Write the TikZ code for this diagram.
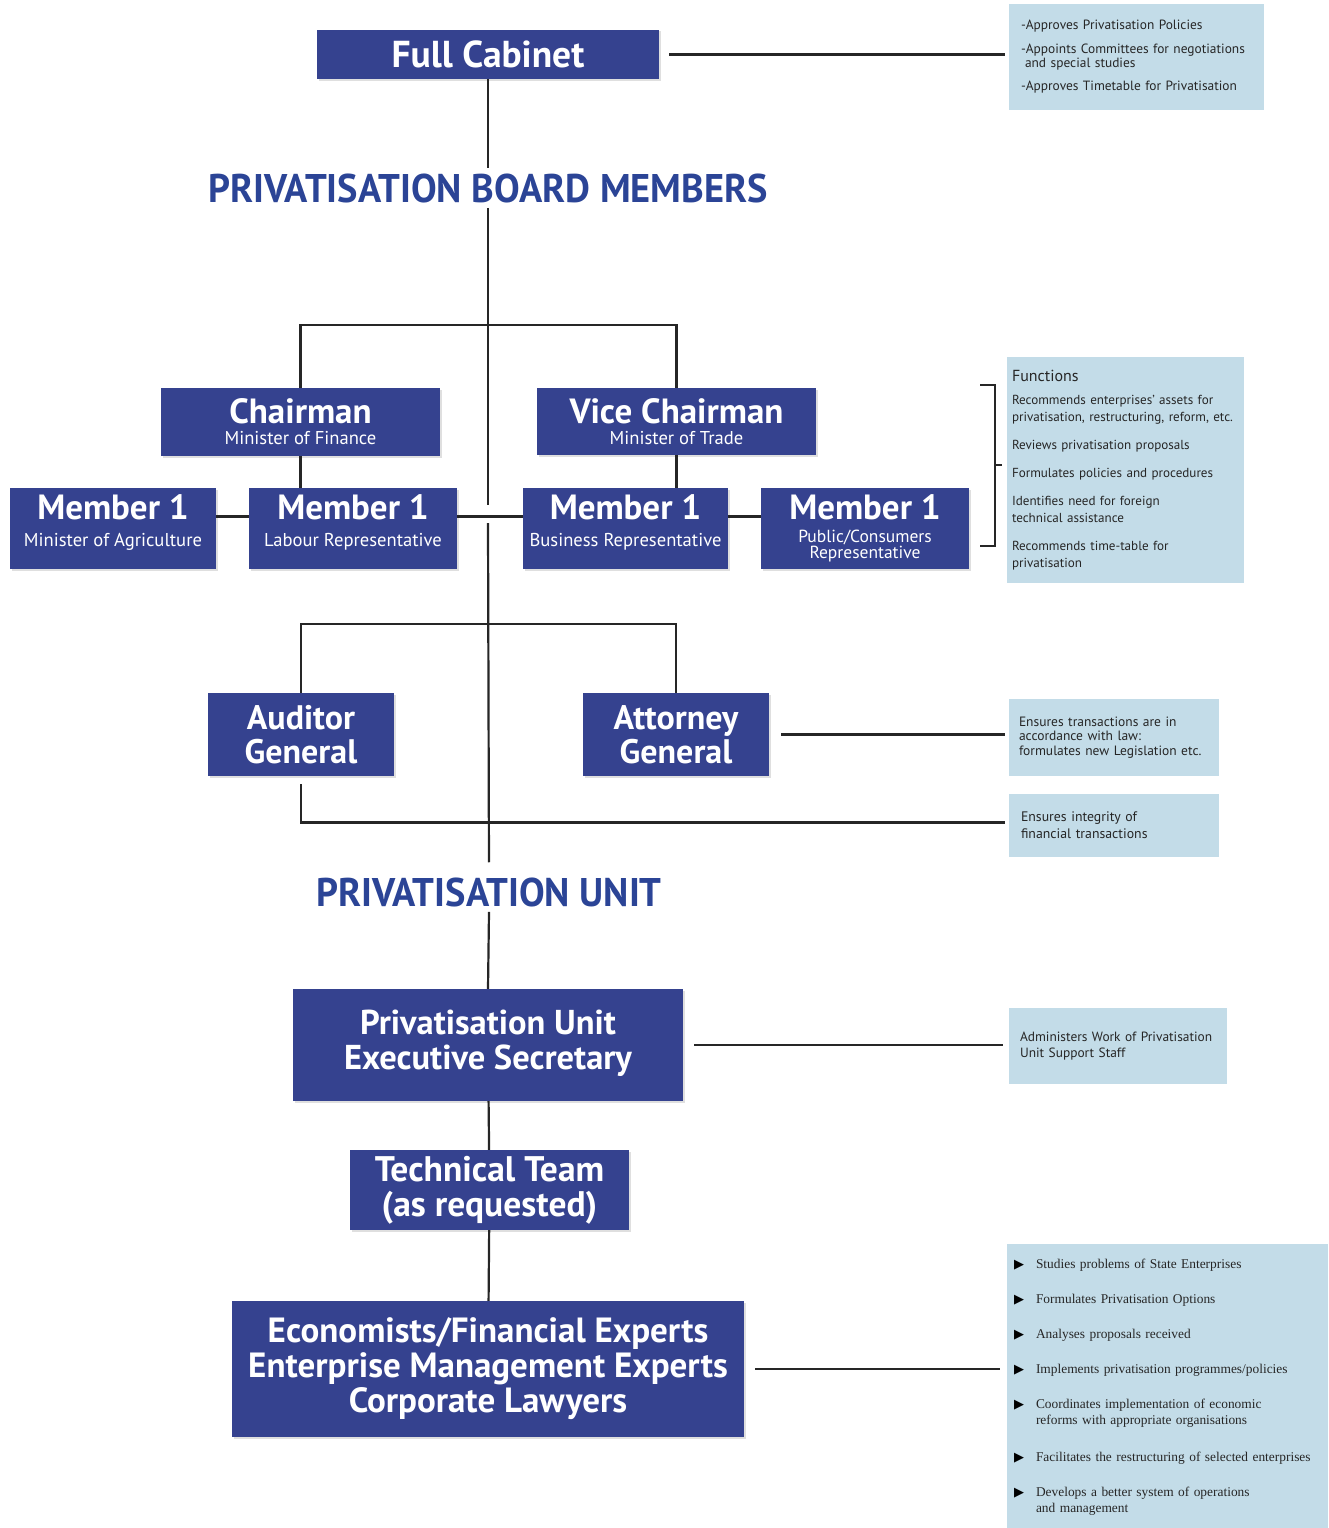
\documentclass[tikz,border=0pt]{standalone}
\usepackage{fontspec}
\setmainfont{PT Sans}
\newfontfamily\headfont{PT Sans}[FakeStretch=0.96]
\newfontfamily\listfont{Liberation Serif}
\newfontfamily\symfont{DejaVu Sans}
\usetikzlibrary{positioning,shadows}
\definecolor{pbblue}{HTML}{35428F}
\definecolor{pbhead}{HTML}{2B4496}
\definecolor{pbnote}{HTML}{C3DCE8}
\definecolor{pbline}{HTML}{262626}
\newcommand{\roleline}[1]{{\fontsize{18.6}{19}\selectfont\mdseries #1}}
\newcommand{\lowpad}[1]{\rule[-#1]{0pt}{#1}}
\newcommand{\tri}{\makebox[22pt][l]{\symfont\fontsize{13}{13}\selectfont\color{black}▶}}
\tikzset{
  unitbox/.style={fill=pbblue,text=white,font=\bfseries\fontsize{35}{35}\selectfont,
    align=center,inner sep=0pt,drop shadow={opacity=0.25,shadow xshift=1.5pt,shadow yshift=-1.5pt}},
  notebox/.style={fill=pbnote,text=black!85,font=\fontsize{13}{15}\selectfont,
    align=left,inner ysep=0pt},
  heading/.style={text=pbhead,font=\headfont\bfseries\fontsize{40}{40}\selectfont,inner sep=5pt},
  link/.style={draw=pbline,line width=2.2pt}
}

\begin{document}
\begin{tikzpicture}[x=1pt,y=-1pt]
  \useasboundingbox (0,0) rectangle (1328,1528);
  % --- cabinet ---
  \node[unitbox,minimum width=342,minimum height=49,font=\bfseries\fontsize{37.5}{37}\selectfont] (cab) at (488,54.5) {Full Cabinet};
  \node[notebox,minimum width=255,minimum height=106,text width=231,inner xsep=12pt,font=\fontsize{13.4}{14}\selectfont] (cabnote) at (1136.5,57)
    {-Approves Privatisation Policies\\[10pt]
     -Appoints Committees for negotiations\\
     \hspace*{4pt}and special studies\\[9pt]
     -Approves Timetable for Privatisation};
  \draw[link,shorten <=10pt,shorten >=4pt] (cab.east) -- (cab.east -| cabnote.west);
  % --- board ---
  \node[heading] (boardhead) at (488,188) {PRIVATISATION BOARD MEMBERS};
  \draw[link] (cab.south) -- (boardhead.north);
  \node[unitbox,minimum width=279,minimum height=68] (chair) at (300.5,422)
    {Chairman\\[-14pt]\roleline{Minister of Finance}};
  \node[unitbox,minimum width=279,minimum height=67] (vice) at (676.5,421.5)
    {Vice Chairman\\[-14pt]\roleline{Minister of Trade}};
  \coordinate (boardbar) at (488,325);
  \draw[link] (chair.north) |- (boardbar) -| (vice.north);
  \node[unitbox,minimum width=206,minimum height=81] (agri) at (113,528.5)
    {Member 1\\[-8pt]\roleline{Minister of Agriculture}\lowpad{16pt}};
  \node[unitbox,minimum width=208,minimum height=81] (lab) at (353,528.5)
    {Member 1\\[-8pt]\roleline{Labour Representative}\lowpad{16pt}};
  \node[unitbox,minimum width=205,minimum height=81] (bus) at (625.5,528.5)
    {Member 1\\[-8pt]\roleline{Business Representative}\lowpad{16pt}};
  \node[unitbox,minimum width=208,minimum height=81] (pub) at (865,528.5)
    {Member 1\\[-12pt]{\fontsize{17.5}{18}\selectfont\mdseries Public/Consumers}\\[-19pt]{\fontsize{17.5}{18}\selectfont\mdseries Representative}\lowpad{4pt}};
  \draw[link] (chair.south) -- (chair.south |- lab.north);
  \draw[link] (vice.south) -- (vice.south |- bus.north);
  \draw[link] ([yshift=12pt]agri.east) -- ([yshift=12pt]lab.west);
  \draw[link] ([yshift=12pt]lab.east) -- ([yshift=12pt]bus.west);
  \draw[link] ([yshift=12pt]bus.east) -- ([yshift=12pt]pub.west);
  \coordinate (hopup) at (488,505);
  \coordinate (hopdown) at (488,523);
  \draw[link] (boardhead.south) -- (hopup);
  % functions bracket
  \node[notebox,minimum width=237,minimum height=226,text width=227,inner xsep=5pt,font=\fontsize{13.1}{17}\selectfont] (fnote) at (1125.5,470)
    {{\fontsize{16}{18}\selectfont Functions}\\[6pt]
     Recommends enterprises' assets for\\
     privatisation, restructuring, reform, etc.\\[11pt]
     Reviews privatisation proposals\\[11pt]
     Formulates policies and procedures\\[11pt]
     Identifies need for foreign\\
     technical assistance\\[11pt]
     Recommends time-table for\\
     privatisation};
  \coordinate (brtick) at (1002,465);
  \draw[link] (980,385) -- (995,385) -- (995,546) -- (980,546);
  \draw[link] (995,465) -- (brtick);
  % --- auditor / attorney ---
  \node[unitbox,minimum width=186,minimum height=83,font=\bfseries\fontsize{34}{34}\selectfont] (aud) at (301,734.5) {Auditor\\General};
  \node[unitbox,minimum width=186,minimum height=83,font=\bfseries\fontsize{34}{34}\selectfont] (att) at (676,734.5) {Attorney\\General};
  \coordinate (legalbar) at (488,624);
  \draw[link] (aud.north) |- (legalbar) -| (att.north);
  \node[notebox,minimum width=210,minimum height=77,text width=190,inner xsep=10pt,font=\fontsize{13.5}{14.5}\selectfont] (attnote) at (1114,737.5)
    {Ensures transactions are in\\accordance with law:\\formulates new Legislation etc.};
  \node[notebox,minimum width=210,minimum height=63,text width=186,inner xsep=12pt,font=\fontsize{13.8}{17}\selectfont] (audnote) at (1114,825.5)
    {Ensures integrity of\\financial transactions};
  \draw[link,shorten <=12pt,shorten >=4pt] (att.east) -- (att.east -| attnote.west);
  \draw[link,shorten >=4pt] ([yshift=-8pt]aud.south) |- ([yshift=3pt]audnote.west);
  % --- unit ---
  \node[heading] (unithead) at (489,892) {PRIVATISATION UNIT};
  \draw[link,shorten >=10pt] (hopdown) -- (unithead.north);
  \node[unitbox,minimum width=390,minimum height=112,font=\bfseries\fontsize{34.5}{35}\selectfont] (sec) at (488,1045)
    {Privatisation Unit\\Executive Secretary\lowpad{10pt}};
  \draw[link] (unithead.south) -- (sec.north);
  \node[notebox,minimum width=218,minimum height=76,text width=196,inner xsep=11pt,font=\fontsize{13.4}{16}\selectfont] (secnote) at (1118,1046)
    {Administers Work of Privatisation\\Unit Support Staff};
  \draw[link,shorten <=11pt,shorten >=6pt] (sec.east) -- (sec.east -| secnote.west);
  \node[unitbox,minimum width=279,minimum height=80,font=\bfseries\fontsize{35.5}{35}\selectfont] (tech) at (489.5,1190)
    {Technical Team\\(as requested)};
  \draw[link] (sec) -- (tech);
  \node[unitbox,minimum width=512,minimum height=136] (experts) at (488,1369)
    {Economists/Financial Experts\\Enterprise Management Experts\\Corporate Lawyers};
  \draw[link] (tech) -- (experts);
  \node[notebox,minimum width=321,minimum height=286,text width=307,inner xsep=7pt,font=\listfont\fontsize{13.4}{16}\selectfont] (expnote) at (1167.5,1387)
    {\tri Studies problems of State Enterprises\\[19pt]
     \tri Formulates Privatisation Options\\[19pt]
     \tri Analyses proposals received\\[19pt]
     \tri Implements privatisation programmes/policies\\[19pt]
     \tri Coordinates implementation of economic\\
     \hspace*{22pt}reforms with appropriate organisations\\[21pt]
     \tri Facilitates the restructuring of selected enterprises\\[19pt]
     \tri Develops a better system of operations\\
     \hspace*{22pt}and management};
  \draw[link,shorten <=11pt,shorten >=7pt] (experts.east) -- (experts.east -| expnote.west);
\end{tikzpicture}
\end{document}
